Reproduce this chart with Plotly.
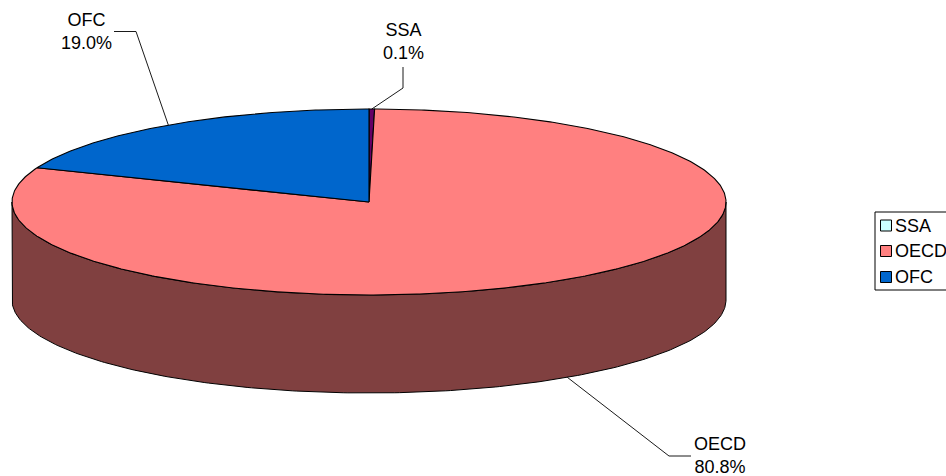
import numpy as np
import plotly.graph_objects as go

categories = ["SSA", "OECD", "OFC"]
drawn_shares = [0.25, 80.75, 19.0]
share_labels = ["0.1%", "80.8%", "19.0%"]
top_colors = ["#660066", "#FF8080", "#0066CC"]
legend_colors = ["#CCFFFF", "#FF8080", "#0066CC"]
wall_color = "#804040"

W, H = 946, 476
CX, CY, RX, RY, DEPTH = 369, 202, 357, 93, 98
FONT = dict(family="Liberation Sans, Arial, sans-serif", size=18, color="black")


def ell(t, dy=0):
    return CX + RX * np.sin(t), CY - RY * np.cos(t) + dy


fig = go.Figure()

# side wall (front half of the cylinder)
t = np.linspace(np.pi / 2, 3 * np.pi / 2, 240)
x1, y1 = ell(t)
x2, y2 = ell(t[::-1], DEPTH)
fig.add_trace(go.Scatter(
    x=np.r_[x1, x2, x1[0]], y=np.r_[y1, y2, y1[0]], mode="lines", fill="toself",
    fillcolor=wall_color, line=dict(color="black", width=1), hoverinfo="skip", showlegend=False))

# top slices
fractions = np.array(drawn_shares) / sum(drawn_shares)
edges = np.r_[0, np.cumsum(fractions)] * 2 * np.pi
mids = (edges[:-1] + edges[1:]) / 2
for i, name in enumerate(categories):
    t = np.linspace(edges[i], edges[i + 1], max(4, int(360 * fractions[i] * 2)))
    xs, ys = ell(t)
    fig.add_trace(go.Scatter(
        x=np.r_[CX, xs, CX], y=np.r_[CY, ys, CY], mode="lines", fill="toself", name=name,
        fillcolor=top_colors[i], line=dict(color="black", width=1.1), showlegend=False,
        hovertemplate=name + " " + share_labels[i] + "<extra></extra>"))

# leader lines and labels
elbows = {"SSA": [(403, 88), (403, 67)], "OECD": [(669, 456), (691, 456)], "OFC": [(136, 31.5), (114, 31.5)]}
label_pos = {"SSA": (403, 41.5), "OECD": (720, 455.5), "OFC": (86, 31.5)}
for i, name in enumerate(categories):
    sx, sy = ell(mids[i], DEPTH if name == "OECD" else 0)
    px = [sx] + [p[0] for p in elbows[name]]
    py = [sy] + [p[1] for p in elbows[name]]
    fig.add_trace(go.Scatter(x=px, y=py, mode="lines", line=dict(color="black", width=0.9),
                             hoverinfo="skip", showlegend=False))
    fig.add_annotation(x=label_pos[name][0], y=label_pos[name][1], text=name + "<br>" + share_labels[i],
                       showarrow=False, font=FONT, xanchor="center", yanchor="middle", borderpad=0)

# legend
fig.add_shape(type="rect", x0=875, x1=960, y0=212, y1=290, line=dict(color="black", width=1), fillcolor="white", layer="below")
legend_y = [225.5, 251, 277]
fig.add_trace(go.Scatter(
    x=[886] * 3, y=legend_y, mode="markers", cliponaxis=False, showlegend=False, hoverinfo="skip",
    marker=dict(symbol="square", size=11, color=legend_colors, line=dict(color="black", width=1))))
fig.add_trace(go.Scatter(
    x=[895] * 3, y=[v + 1.5 for v in legend_y], mode="text", text=categories, textposition="middle right",
    textfont=FONT, cliponaxis=False, showlegend=False, hoverinfo="skip"))

fig.update_layout(
    width=W, height=H, margin=dict(l=0, r=0, t=0, b=0), showlegend=False,
    paper_bgcolor="white", plot_bgcolor="white",
    xaxis=dict(range=[0, W], visible=False, fixedrange=True),
    yaxis=dict(range=[H, 0], visible=False, fixedrange=True),
)
fig.write_html("out.html", config=dict(displayModeBar=False), post_script="document.body.style.margin='0';")
